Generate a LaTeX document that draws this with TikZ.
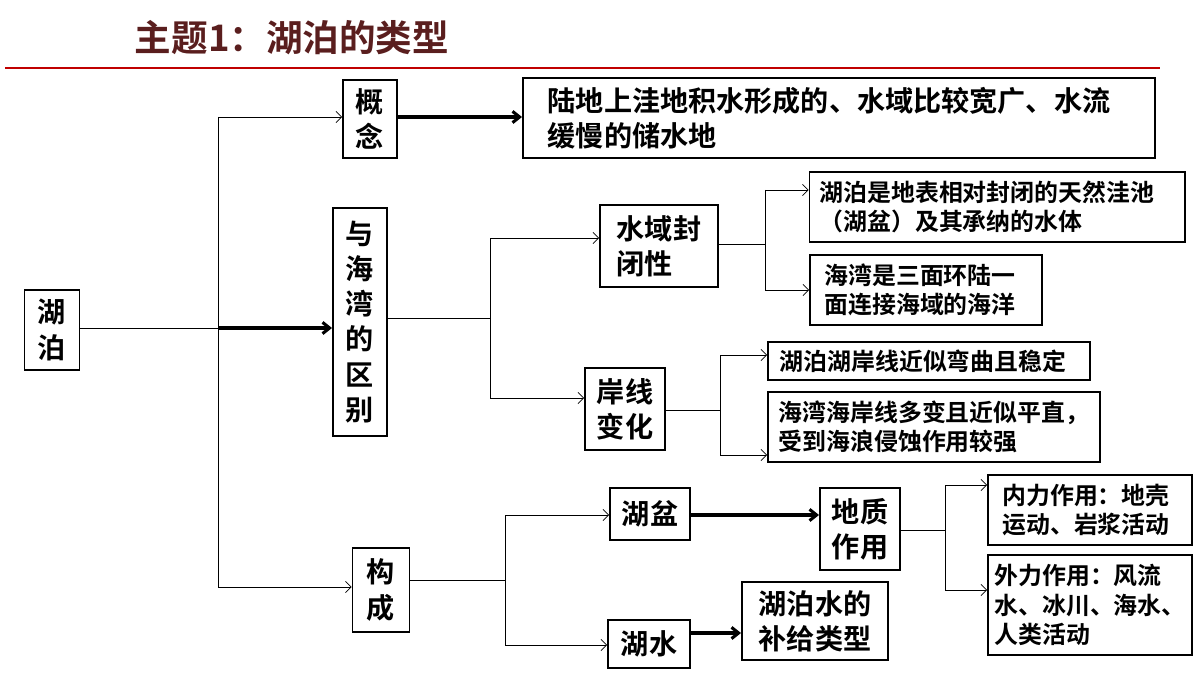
\documentclass[tikz,border=0pt]{standalone}
\usepackage{fontspec}
\setmainfont{Noto Sans CJK SC Bold}
\usetikzlibrary{arrows.meta}
\definecolor{titlered}{RGB}{90,30,30}
\definecolor{rulered}{RGB}{192,0,0}
\tikzset{%
  mybox/.style={draw=black, line width=1.4pt, inner sep=2pt, align=left},
  bigbox/.style={mybox, font=\fontsize{20}{25}\selectfont},
  smallbox/.style={mybox, font=\fontsize{17}{21}\selectfont},
  sz/.style 2 args={minimum width=#1*0.025cm, minimum height=#2*0.025cm},
  thinedge/.style={-{Straight Barb[length=4pt]}, line width=0.5pt},
  thickedge/.style={-{Straight Barb[length=5pt,width=8pt]}, line width=2.2pt},
  myline/.style={line width=0.5pt}
}
\begin{document}
\begin{tikzpicture}[x=0.025cm, y=-0.025cm]
  \useasboundingbox (0,0) rectangle (1200,675);
  \node[font=\fontsize{26}{30}\selectfont, text=titlered, anchor=west] (title) at (130,38) {主题1：湖泊的类型};
  \draw[rulered, line width=1.2pt] (5,68) -- (1160,68);
  % boxes
  \node[bigbox, sz={55}{80}] (hupo) at (52,330) {湖\\泊};
  \node[bigbox, sz={54}{78}] (gainian) at (370,119) {概\\念};
  \node[bigbox, sz={632}{80}] (dingyi) at (839,118) {陆地上洼地积水形成的、水域比较宽广、水流\hspace*{0.5cm}\\缓慢的储水地\hspace*{8cm}};
  \node[bigbox, sz={54}{228}] (qubie) at (360,322) {与\\海\\湾\\的\\区\\别};
  \node[bigbox, sz={118}{82}] (fengbi) at (659,246) {水域封\\闭性};
  \node[smallbox, sz={375}{70}] (hupoa) at (997,207) {湖泊是地表相对封闭的天然洼池\\（湖盆）及其承纳的水体\hspace*{2.3cm}};
  \node[smallbox, sz={232}{70}] (haiwana) at (926,290) {海湾是三面环陆一\hspace*{0.3cm}\\面连接海域的海洋\hspace*{0.3cm}};
  \node[bigbox, sz={80}{82}] (anxian) at (625,409) {岸线\\变化};
  \node[smallbox, sz={322}{38}] (hupob) at (929,361) {湖泊湖岸线近似弯曲且稳定\hspace*{0.3cm}};
  \node[smallbox, sz={332}{70}] (haiwanb) at (934,427) {海湾海岸线多变且近似平直，\\受到海浪侵蚀作用较强\hspace*{1.6cm}};
  \node[bigbox, sz={57}{84}] (goucheng) at (381,590) {构\\成};
  \node[bigbox, sz={80}{52}] (hupen) at (650,514) {湖盆};
  \node[bigbox, sz={80}{82}] (dizhi) at (860,529) {地质\\作用};
  \node[smallbox, sz={204}{70}] (neili) at (1090,510) {内力作用：地壳\hspace*{0.2cm}\\运动、岩浆活动\hspace*{0.2cm}};
  \node[smallbox, sz={204}{100}] (waili) at (1090,605) {外力作用：风流\\水、冰川、海水、\\人类活动\hspace*{2.1cm}};
  \node[bigbox, sz={82}{48}] (hushui) at (649,644) {湖水};
  \node[bigbox, sz={146}{78}] (bugei) at (815,621) {湖泊水的\\补给类型};
  % connectors
  \coordinate (j1) at (218,328);
  \draw[myline] (hupo.east |- j1) -- (j1);
  \draw[myline] (218,117) -- (218,587);
  \draw[thinedge] (218,117) -- (gainian.west |- 0,117);
  \draw[thickedge] (j1) -- (qubie.west |- j1);
  \draw[thinedge] (218,587) -- (goucheng.west |- 0,587);
  \draw[thickedge] (gainian.east |- 0,117) -- (dingyi.west |- 0,117);
  \draw[myline] (qubie.east |- 0,318) -- (490,318);
  \draw[myline] (490,238) -- (490,398);
  \draw[thinedge] (490,238) -- (fengbi.west |- 0,238);
  \draw[thinedge] (490,398) -- (anxian.west |- 0,398);
  \draw[myline] (fengbi.east |- 0,244) -- (765,244);
  \draw[myline] (765,190) -- (765,290);
  \draw[thinedge] (765,190) -- (hupoa.west |- 0,190);
  \draw[thinedge] (765,290) -- (haiwana.west |- 0,290);
  \draw[myline] (anxian.east |- 0,410) -- (720,410);
  \draw[myline] (720,355) -- (720,455);
  \draw[thinedge] (720,355) -- (hupob.west |- 0,355);
  \draw[thinedge] (720,455) -- (haiwanb.west |- 0,455);
  \draw[myline] (goucheng.east |- 0,580) -- (505,580);
  \draw[myline] (505,515) -- (505,645);
  \draw[thinedge] (505,515) -- (hupen.west |- 0,515);
  \draw[thinedge] (505,645) -- (hushui.west |- 0,645);
  \draw[thickedge] (hupen.east |- 0,515) -- (dizhi.west |- 0,515);
  \draw[myline] (dizhi.east |- 0,530) -- (945,530);
  \draw[myline] (945,485) -- (945,590);
  \draw[thinedge] (945,485) -- (neili.west |- 0,485);
  \draw[thinedge] (945,590) -- (waili.west |- 0,590);
  \draw[thickedge] (hushui.east |- 0,633) -- (bugei.west |- 0,633);
\end{tikzpicture}
\end{document}
